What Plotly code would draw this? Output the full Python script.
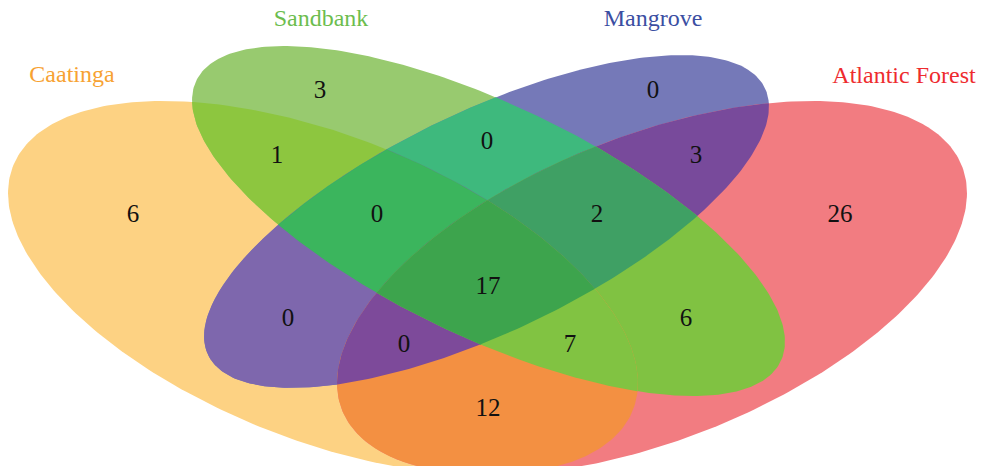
import numpy as np
import plotly.graph_objects as go

# ---------------- data ----------------
set_names = ["Caatinga", "Sandbank", "Mangrove", "Atlantic Forest"]
# region membership codes: C=Caatinga, S=Sandbank, M=Mangrove, A=Atlantic Forest
regions = ["C", "S", "M", "A", "CS", "SM", "MA", "CM", "SA", "CA",
           "CSM", "SMA", "CMA", "CSA", "CSMA"]
counts = [6, 3, 0, 26, 1, 0, 3, 0, 6, 12, 0, 2, 0, 7, 17]

# ---------------- styling / layout (not data) ----------------
W, H = 984, 466
FONT = "Liberation Serif"
set_codes = ["C", "S", "M", "A"]
label_colors = {"C": "#F7A232", "S": "#6CBD4E", "M": "#3B4EA2", "A": "#EE2B2E"}
label_pos = {"C": (72, 76), "S": (321, 20), "M": (653, 20), "A": (904, 77)}

region_colors = {
    "C": "#FDD283", "S": "#98CA6F", "M": "#7579B8", "A": "#F27C81",
    "CS": "#8DC63F", "SM": "#3EB97D", "MA": "#784A9B", "CM": "#7E67AD",
    "SA": "#80C242", "CA": "#F39042",
    "CSM": "#3BB55D", "SMA": "#3FA064", "CMA": "#7D4A9A", "CSA": "#81C342",
    "CSMA": "#3DA44D",
}
count_pos = {
    "C": (133, 216), "S": (320, 92), "M": (653, 92), "A": (840, 216),
    "CS": (277, 157), "SM": (487, 143), "MA": (696, 157), "CM": (288, 320),
    "SA": (686, 320), "CA": (488, 410),
    "CSM": (377, 216), "SMA": (597, 216), "CMA": (404, 346), "CSA": (570, 346),
    "CSMA": (488, 288),
}

# ellipse geometry (pixel space): cx, cy, sx, sy, a, b, rotation
geom = {
    "C": (323, 288, 1105, 656, 0.35, 0.20, 135),
    "S": (488.5, 221, 1101, 650, 0.35, 0.15, 135),
    "M": (486.5, 221.5, 1049, 618, 0.35, 0.15, 45),
    "A": (652, 288, 1105, 656, 0.35, 0.20, 45),
}


def ellipse_poly(cx, cy, sx, sy, a, b, rot, n=360):
    t = np.linspace(0, 2 * np.pi, n, endpoint=False)
    r = np.radians(rot)
    u = a * np.cos(t) * np.cos(r) - b * np.sin(t) * np.sin(r)
    v = a * np.cos(t) * np.sin(r) + b * np.sin(t) * np.cos(r)
    pts = list(zip((cx + sx * u).tolist(), (cy - sy * v).tolist()))
    area = sum(pts[i - 1][0] * pts[i][1] - pts[i][0] * pts[i - 1][1] for i in range(len(pts)))
    if area < 0:
        pts = pts[::-1]
    return pts


def inside(p, a, b):
    return (b[0] - a[0]) * (p[1] - a[1]) - (b[1] - a[1]) * (p[0] - a[0]) >= 0


def intersect(s, e, a, b):
    dx1, dy1 = e[0] - s[0], e[1] - s[1]
    dx2, dy2 = b[0] - a[0], b[1] - a[1]
    den = dx1 * dy2 - dy1 * dx2
    if den == 0:
        return e
    t = ((a[0] - s[0]) * dy2 - (a[1] - s[1]) * dx2) / den
    return (s[0] + t * dx1, s[1] + t * dy1)


def clip(subject, clipper):
    output = subject
    for i in range(len(clipper)):
        a, b = clipper[i - 1], clipper[i]
        inp = output
        output = []
        if not inp:
            break
        s = inp[-1]
        for e in inp:
            if inside(e, a, b):
                if not inside(s, a, b):
                    output.append(intersect(s, e, a, b))
                output.append(e)
            elif inside(s, a, b):
                output.append(intersect(s, e, a, b))
            s = e
    return output


polys = {k: ellipse_poly(*geom[k]) for k in set_codes}

fig = go.Figure()

# draw regions ordered by number of sets (higher-order intersections on top)
for reg in sorted(regions, key=len):
    poly = polys[reg[0]]
    for k in reg[1:]:
        poly = clip(poly, polys[k])
    if not poly:
        continue
    xs = [p[0] for p in poly] + [poly[0][0]]
    ys = [p[1] for p in poly] + [poly[0][1]]
    fig.add_trace(go.Scatter(
        x=xs, y=ys, mode="lines", fill="toself",
        fillcolor=region_colors[reg], line=dict(width=0, color=region_colors[reg]),
        hoverinfo="skip", showlegend=False,
    ))

# region counts
fig.add_trace(go.Scatter(
    x=[count_pos[r][0] for r in regions],
    y=[count_pos[r][1] for r in regions],
    mode="text",
    text=[str(c) for c in counts],
    textfont=dict(family=FONT, size=25, color="#111111"),
    hoverinfo="skip", showlegend=False, cliponaxis=False,
))

# set labels
for code, name in zip(set_codes, set_names):
    fig.add_trace(go.Scatter(
        x=[label_pos[code][0]], y=[label_pos[code][1]],
        mode="text", text=[name],
        textfont=dict(family=FONT, size=24, color=label_colors[code]),
        hoverinfo="skip", showlegend=False, cliponaxis=False,
    ))

fig.update_layout(
    width=W, height=H,
    margin=dict(l=0, r=0, t=0, b=0),
    paper_bgcolor="white", plot_bgcolor="white",
    showlegend=False,
    font=dict(family=FONT),
    xaxis=dict(range=[0, W], visible=False, fixedrange=True),
    yaxis=dict(range=[H, 0], visible=False, fixedrange=True),
)

fig.write_html(
    "out.html",
    config={"displayModeBar": False},
    post_script="document.body.style.margin='0';document.body.style.overflow='hidden';",
)
